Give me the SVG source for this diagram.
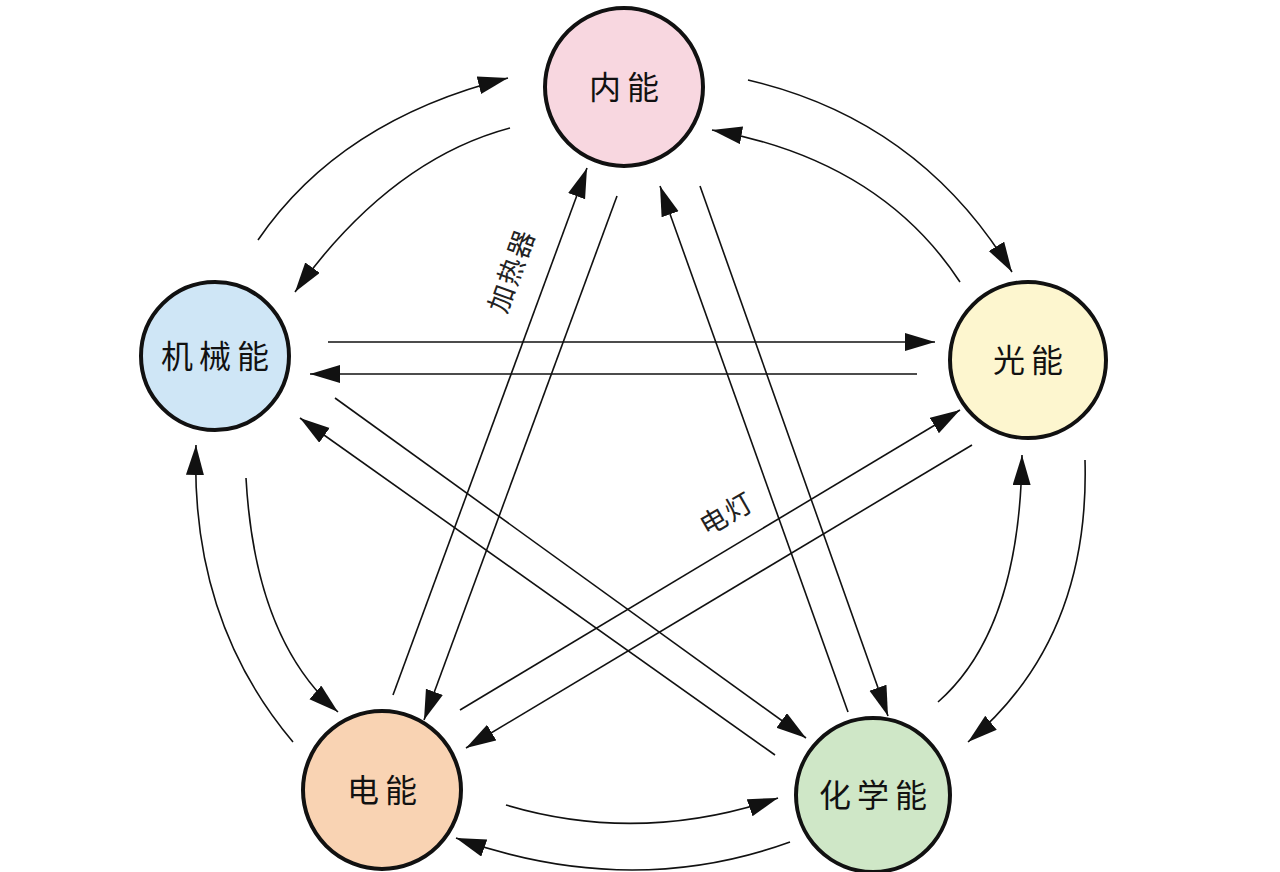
<svg xmlns="http://www.w3.org/2000/svg" width="1280" height="872" viewBox="0 0 1280 872">
<style>
.n{stroke:#111;stroke-width:4}
.t{font-family:"Noto Sans CJK SC",sans-serif;font-size:32px;fill:#111;text-anchor:middle;dominant-baseline:central;letter-spacing:6px}
.c path{fill:none;stroke:#111;stroke-width:1.6;marker-end:url(#a)}
.l{font-family:"Noto Sans CJK SC",sans-serif;font-size:27px;fill:#222;text-anchor:middle;dominant-baseline:central;letter-spacing:2px}
</style>
<defs><marker id="a" markerUnits="userSpaceOnUse" markerWidth="32" markerHeight="20" refX="30" refY="9" orient="auto"><path d="M0,0 L30,9 L0,18 Z" fill="#111"/></marker></defs>
<rect width="1280" height="872" fill="#fff"/>
<g class="c">
<path d="M258,240 Q340,120 508,78"/>
<path d="M510,128 Q390,160 295,292"/>
<path d="M748,80 Q920,120 1012,272"/>
<path d="M960,282 Q880,160 712,130"/>
<path d="M328,342 L935,342"/>
<path d="M917,374 L310,374"/>
<path d="M246,478 Q255,640 338,712"/>
<path d="M293,742 Q190,620 196,445"/>
<path d="M1085,460 Q1090,640 968,742"/>
<path d="M938,702 Q1020,630 1022,455"/>
<path d="M506,805 Q640,845 778,798"/>
<path d="M790,842 Q630,900 456,838"/>
<path d="M393,695 L587,168"/>
<path d="M617,196 L424,720"/>
<path d="M848,712 L660,186"/>
<path d="M700,186 L888,716"/>
<path d="M335,398 L806,738"/>
<path d="M775,755 L300,418"/>
<path d="M460,710 L960,410"/>
<path d="M972,445 L466,748"/>
</g>
<text class="l" transform="translate(510,270) rotate(-70)">加热器</text>
<text class="l" transform="translate(726,512) rotate(-30)">电灯</text>
<g id="neineng"><circle class="n" cx="624" cy="87" r="79" fill="#f8d7e0"/><text class="t" x="627" y="85">内能</text></g>
<g id="jixie"><circle class="n" cx="215" cy="356" r="74" fill="#cfe6f6"/><text class="t" x="218" y="354">机械能</text></g>
<g id="guang"><circle class="n" cx="1028" cy="360" r="78" fill="#fdf6cf"/><text class="t" x="1031" y="358">光能</text></g>
<g id="dian"><circle class="n" cx="382" cy="790" r="79" fill="#f9d3b3"/><text class="t" x="385" y="788">电能</text></g>
<g id="huaxue"><circle class="n" cx="873" cy="795" r="77" fill="#cfe7c7"/><text class="t" x="876" y="793">化学能</text></g>
</svg>
